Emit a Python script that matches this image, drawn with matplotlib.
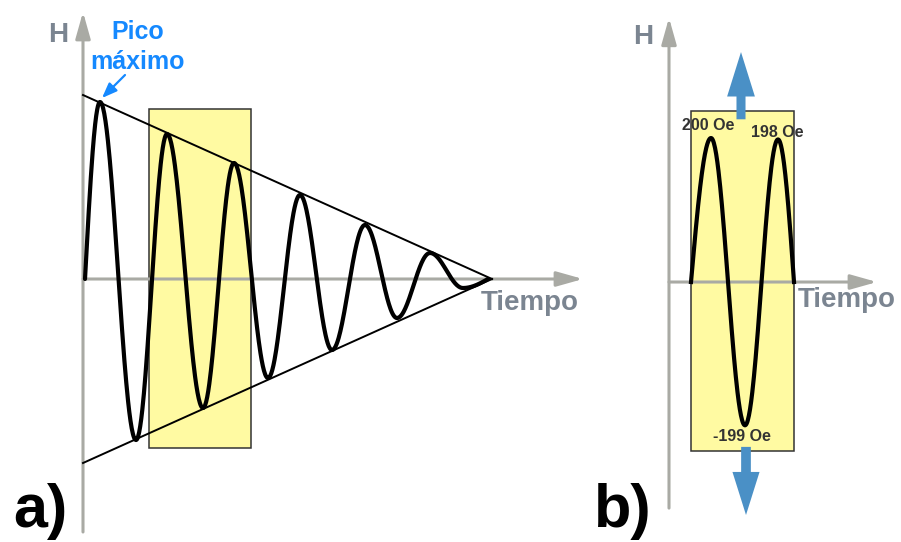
import numpy as np
import matplotlib
matplotlib.use("Agg")
import matplotlib.pyplot as plt
from matplotlib.patches import Rectangle

plt.rcParams['font.family'] = ['Liberation Sans', 'DejaVu Sans']

# panel a: extrema of the damped oscillation (time, H), arbitrary units
a_time = [2, 17, 53, 84, 120, 151, 185, 217, 249, 282, 314, 347, 380, 405]
a_field = [0, 177, -161, 145, -129, 116, -99, 84, -71, 54, -39, 26, -9, 0]
a_env_start = 184      # envelope amplitude at t=0
a_env_end_time = 409   # envelope closes here

# panel b: one window of the signal, H in Oe
b_time = [22, 42, 76, 109, 125]
b_field = [0, 200, -199, 198, 0]
b_labels = ["200 Oe", "-199 Oe", "198 Oe"]

GRAY_AXIS = "#a9aaa4"
GRAY_TEXT = "#7b8591"
YELLOW = "#fffaa2"
BLUE_TXT = "#1589ff"
BLUE_ARR = "#4a90c6"


def wave(times, values, n=60):
    """Join extrema with smooth half waves."""
    xs, ys = [], []
    for i in range(len(times) - 1):
        t0, t1 = times[i], times[i + 1]
        h0, h1 = values[i], values[i + 1]
        s = np.linspace(0, 1, n)
        if h0 == 0:
            h = h1 * np.sin(s * np.pi / 2)
        elif h1 == 0:
            h = h0 * np.cos(s * np.pi / 2)
        else:
            h = h0 + (h1 - h0) * (1 - np.cos(np.pi * s)) / 2
        xs.extend(t0 + (t1 - t0) * s)
        ys.extend(h)
    return np.array(xs), np.array(ys)


def axis_arrow(ax, start, end):
    ax.annotate("", xy=end, xytext=start, zorder=2,
                arrowprops=dict(arrowstyle="-|>,head_length=1.6,head_width=0.45",
                                color=GRAY_AXIS, lw=2.2, mutation_scale=10,
                                shrinkA=0, shrinkB=0))


fig = plt.figure(figsize=(9.01, 5.42), dpi=100)
fig.patch.set_facecolor("white")

# ---- panel a ----
ax_a = fig.add_axes([0, 0, 600 / 901, 1])
ax_a.set_xlim(-83, 517)
ax_a.set_ylim(-263, 279)
ax_a.axis("off")

ax_a.add_patch(Rectangle((66, -169), 102, 339, facecolor=YELLOW,
                         edgecolor="#333333", lw=1.1, zorder=1))
axis_arrow(ax_a, (0, -253), (0, 267))
axis_arrow(ax_a, (0, 0), (500, 0))

ax_a.plot([0, a_env_end_time], [a_env_start, 0], color="black", lw=1.4, zorder=3)
ax_a.plot([0, a_env_end_time], [-a_env_start, 0], color="black", lw=1.4, zorder=3)

xa, ya = wave(a_time, a_field)
ax_a.plot(xa, ya, color="black", lw=3.0, zorder=4, solid_capstyle="round")

ax_a.text(-25, 244, "H", color=GRAY_TEXT, fontsize=20, fontweight="bold",
          ha="center", va="center")
ax_a.text(447, -24, "Tiempo", color=GRAY_TEXT, fontsize=20, fontweight="bold",
          ha="center", va="center")
ax_a.text(55, 247, "Pico", color=BLUE_TXT, fontsize=18, fontweight="bold",
          ha="center", va="center")
ax_a.text(55, 217, "máximo", color=BLUE_TXT, fontsize=18, fontweight="bold",
          ha="center", va="center")
ax_a.annotate("", xy=(19, 181), xytext=(42, 204), zorder=5,
              arrowprops=dict(arrowstyle="-|>,head_length=0.9,head_width=0.35",
                              color=BLUE_TXT, lw=1.6, mutation_scale=10,
                              shrinkA=0, shrinkB=0))

# ---- panel b ----
ax_b = fig.add_axes([600 / 901, 0, 301 / 901, 1])
ax_b.set_xlim(-69, 232)
ax_b.set_ylim(-361.1, 391.7)
ax_b.axis("off")

ax_b.add_patch(Rectangle((22, -234.7), 103, 472.2, facecolor=YELLOW,
                         edgecolor="#333333", lw=1.1, zorder=1))
axis_arrow(ax_b, (0, -314), (0, 367))
axis_arrow(ax_b, (0, 0), (208, 0))

xb, yb = wave(b_time, b_field)
ax_b.plot(xb, yb, color="black", lw=3.0, zorder=4)

# big blue arrows
ax_b.annotate("", xy=(72, 319.4), xytext=(72, 226), zorder=3,
              arrowprops=dict(arrowstyle="simple,head_length=32,head_width=20,tail_width=6.5",
                              facecolor=BLUE_ARR, edgecolor="none", mutation_scale=1,
                              shrinkA=0, shrinkB=0))
ax_b.annotate("", xy=(77, -323.6), xytext=(77, -229), zorder=3,
              arrowprops=dict(arrowstyle="simple,head_length=31,head_width=19.5,tail_width=7",
                              facecolor=BLUE_ARR, edgecolor="none", mutation_scale=1,
                              shrinkA=0, shrinkB=0))

label_pos = [(39, 218), (73, -215), (108, 208)]
for txt, (tx, ty) in zip(b_labels, label_pos):
    ax_b.text(tx, ty, txt, color="#333333", fontsize=11.5, fontweight="bold",
              ha="center", va="center", zorder=5)

ax_b.text(-26, 340, "H", color=GRAY_TEXT, fontsize=20, fontweight="bold",
          ha="center", va="center")
ax_b.text(178, -25, "Tiempo", color=GRAY_TEXT, fontsize=20, fontweight="bold",
          ha="center", va="center")

# panel tags
fig.text(13 / 901, 15 / 542, "a)", fontsize=44, fontweight="bold",
         ha="left", va="baseline")
fig.text(594 / 901, 15 / 542, "b)", fontsize=44, fontweight="bold",
         ha="left", va="baseline")

fig.savefig("out.png", dpi=100)
